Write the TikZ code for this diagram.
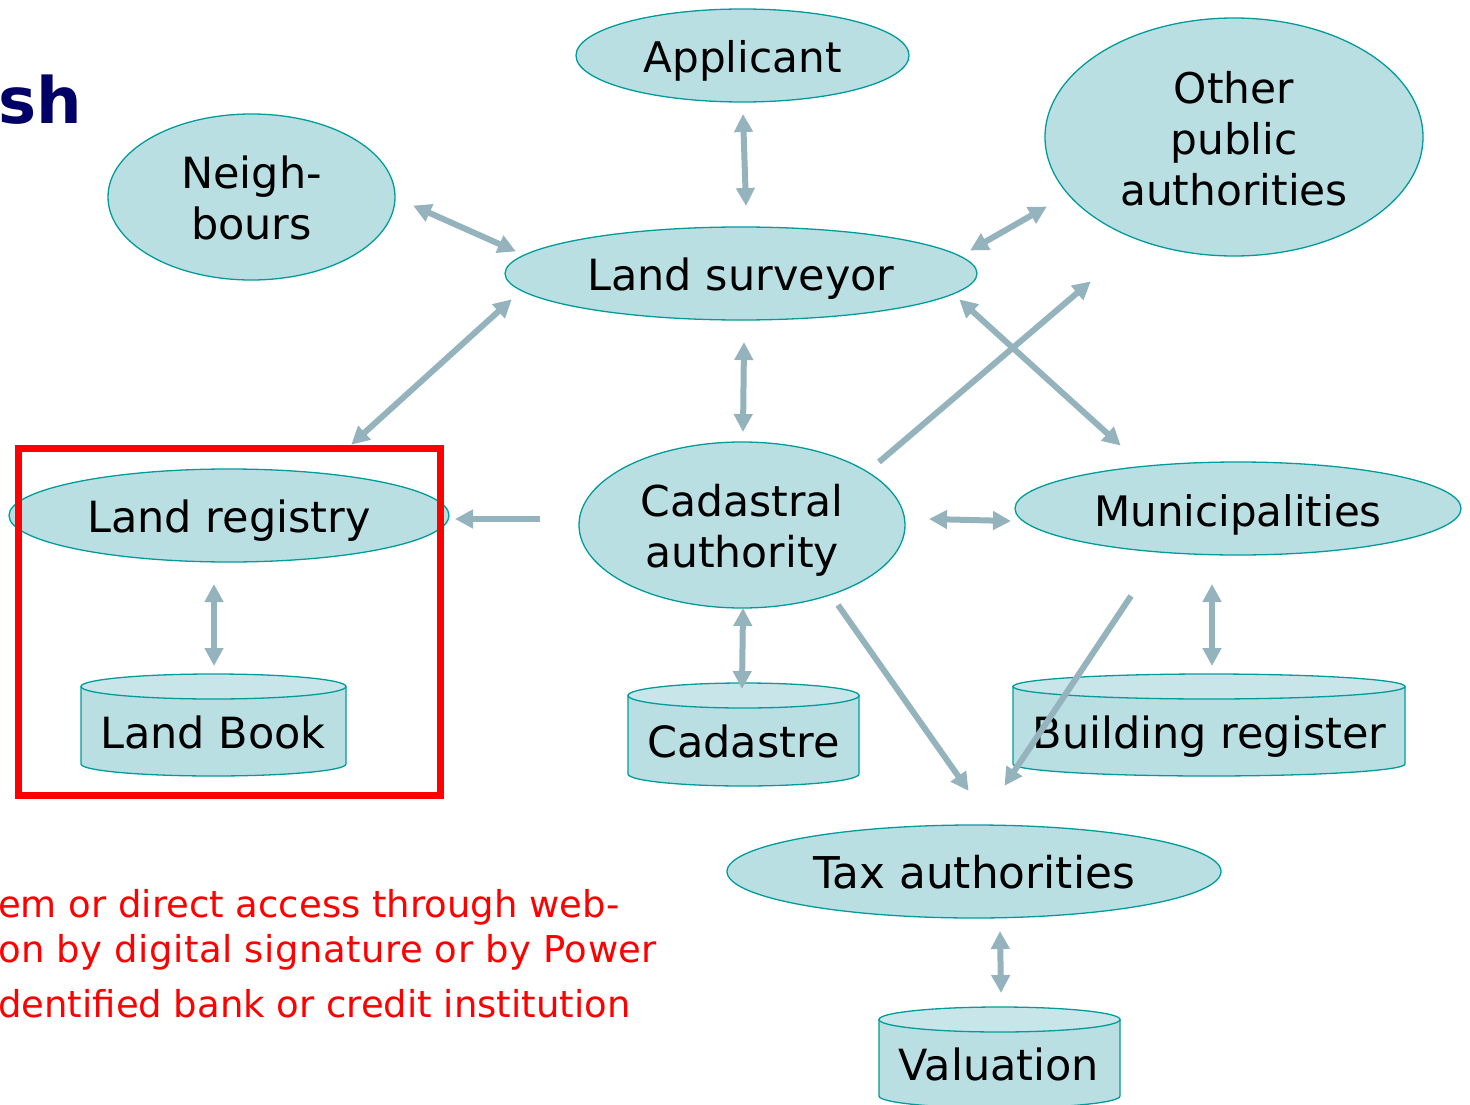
\documentclass[tikz,border=0pt]{standalone}
\usepackage{fontspec}
\setmainfont{DejaVu Sans}
\usetikzlibrary{arrows.meta,shapes.geometric}
\definecolor{bodyfill}{HTML}{BADFE3}
\definecolor{topfill}{HTML}{C8E6E9}
\definecolor{edgeteal}{HTML}{009C9C}
\definecolor{arrowgrey}{HTML}{95B3BD}
\definecolor{titlenavy}{HTML}{000066}
\newcommand{\lnT}[1]{\rule{0pt}{40pt}\smash{#1}}
\newcommand{\lnB}[1]{\rule[-5pt]{0pt}{5pt}\smash{#1}}
\newcommand{\lnBb}[1]{\rule[-7pt]{0pt}{7pt}\smash{#1}}
\newcommand{\lnO}[1]{\rule{0pt}{40pt}\rule[-5pt]{0pt}{5pt}\smash{#1}}
\newcommand{\lnOb}[1]{\rule{0pt}{40pt}\rule[-7pt]{0pt}{7pt}\smash{#1}}
% cylinder: centre x, half width, top y, bottom y
\newcommand{\cylshape}[4]{%
  \path[fill=bodyfill,draw=edgeteal,line width=1.3pt]
    (#1-#2,#3+12.5) -- (#1-#2,#4-12)
    arc[start angle=180,end angle=360,x radius=#2,y radius=-12] 
    -- (#1+#2,#3+12.5) -- cycle;
  \path[fill=topfill,draw=edgeteal,line width=1.3pt]
    (#1,#3+12.5) ellipse[x radius=#2,y radius=12.5];
}
\tikzset{
  x=1pt,y=-1pt,
  fsize/.style={font=\fontsize{#1}{51}\selectfont},
  blob/.style={ellipse,fill=bodyfill,draw=edgeteal,line width=1.3pt,inner sep=0pt,align=center,
    fsize=43,text=black},
  cyltext/.style={anchor=base,inner sep=0pt,font=\fontsize{43}{51}\selectfont,text=black},
  redline/.style={anchor=base west,inner sep=0pt,font=\fontsize{37}{44}\selectfont,text=red},
  both/.style={draw=arrowgrey,line width=6pt,shorten <=-1pt,shorten >=-1pt,{Triangle[width=18pt,length=18pt]}-{Triangle[width=18pt,length=18pt]}},
  one/.style={draw=arrowgrey,line width=6pt,shorten >=-1pt,-{Triangle[width=18pt,length=18pt]}},
  framebox/.style={draw=red,line width=7pt,fill=none}
}
\begin{document}
\begin{tikzpicture}
\useasboundingbox (0,0) rectangle (1470,1105);
\clip (0,0) rectangle (1470,1105);
\fill[white] (0,0) rectangle (1470,1105);

\node[anchor=base west,inner sep=0pt,font=\fontsize{64}{70}\selectfont\bfseries,text=titlenavy] (title) at (-2,124) {sh};

\node[blob,fsize=42.2,minimum width=333pt,minimum height=93pt] (applicant) at (742.5,55.5) {\lnO{Applicant}};
\node[blob,minimum width=287pt,minimum height=166pt] (neigh) at (251.5,197) {\lnT{Neigh-}\\\lnBb{bours}};
\node[blob,fsize=42.3,minimum width=378pt,minimum height=238pt] (other) at (1234,137) {\lnT{Other}\\\smash{public}\\\lnB{authorities}};
\node[blob,minimum width=472pt,minimum height=93pt] (surveyor) at (741,273.5) {\lnOb{Land surveyor}};
\node[blob,fsize=42.5,minimum width=326pt,minimum height=166pt] (cadastral) at (742,525) {\lnT{Cadastral}\\\lnBb{authority}};
\node[blob,fsize=42,minimum width=446pt,minimum height=93pt] (muni) at (1238,508.5) {\lnO{Municipalities}};
\node[blob,minimum width=440pt,minimum height=93pt] (registry) at (229,515.5) {\lnOb{Land registry}};
\node[blob,fsize=43.8,minimum width=494pt,minimum height=93pt] (tax) at (974,871.5) {\lnOb{Tax authorities}};

\cylshape{213.5}{132.5}{674}{776}
\node[cyltext] (book) at (213,748) {Land Book};
\cylshape{743.5}{115.5}{683}{786}
\node[cyltext] (cadastre) at (743.5,757) {Cadastre};
\cylshape{1209}{196}{674}{776}
\node[cyltext] (building) at (1209.5,748) {Building register};
\cylshape{999.5}{120.5}{1007}{1108}
\node[cyltext] (valuation) at (999,1080) {Valuation};

\node[redline] (red1) at (-2,917) {em or direct access through web-};
\node[redline,font=\fontsize{37}{44}\selectfont\addfontfeature{LetterSpace=1.2}] (red2) at (-2,962) {on by digital signature or by Power};
\node[redline] (red3) at (-2,1017) {dentified bank or credit institution};

\coordinate (appS) at (743,115);   \coordinate (surN) at (746,205);
\coordinate (neiE) at (414,206);   \coordinate (surNW) at (515,251);
\coordinate (othSW) at (1046,207); \coordinate (surNE) at (971,250);
\coordinate (surSW) at (511,300);  \coordinate (regNE) at (352,444);
\coordinate (surS) at (744,343);   \coordinate (cadN) at (743,431);
\coordinate (surSE) at (960,300);  \coordinate (munNW) at (1120,445);
\coordinate (cadNE) at (879,462);  \coordinate (othS) at (1090,282);
\coordinate (cadW) at (540,519);   \coordinate (regE) at (456,519);
\coordinate (cadE) at (930,519);   \coordinate (munW) at (1010,521);
\coordinate (regS) at (214,585);   \coordinate (bookN) at (214,665);
\coordinate (cadS) at (743,609);   \coordinate (casN) at (742,688);
\coordinate (munS) at (1212,585);  \coordinate (bldN) at (1212,665);
\coordinate (cadSE) at (838,605);  \coordinate (taxNW) at (968,790);
\coordinate (munSW) at (1131,596); \coordinate (taxNE) at (1005,785);
\coordinate (taxS) at (1000,932);  \coordinate (valN) at (1001,992);

\draw[both] (appS) -- (surN);
\draw[both] (neiE) -- (surNW);
\draw[both] (othSW) -- (surNE);
\draw[both] (surSW) -- (regNE);
\draw[both] (surS) -- (cadN);
\draw[both] (surSE) -- (munNW);
\draw[one] (cadNE) -- (othS);
\draw[one] (cadW) -- (regE);
\draw[both] (cadE) -- (munW);
\draw[both] (regS) -- (bookN);
\draw[both] (cadS) -- (casN);
\draw[both] (munS) -- (bldN);
\draw[one] (cadSE) -- (taxNW);
\draw[one] (munSW) -- (taxNE);
\draw[both] (taxS) -- (valN);

\draw[framebox] (18.5,448) rectangle (440,795);
\end{tikzpicture}
\end{document}
